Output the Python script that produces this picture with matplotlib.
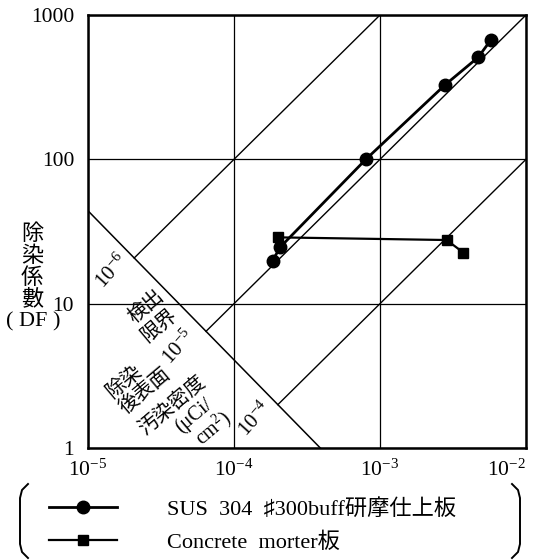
import numpy as np
import matplotlib
matplotlib.use("Agg")
import matplotlib.pyplot as plt
from matplotlib.lines import Line2D
from matplotlib.ticker import NullLocator

plt.rcParams['font.family'] = ['Liberation Serif', 'Noto Sans CJK JP', 'DejaVu Sans']
plt.rcParams['axes.unicode_minus'] = True

# data #############################
sus_x = [1.84e-4, 2.07e-4, 8.0e-4, 2.79e-3, 4.71e-3, 5.74e-3]
sus_df = [19.9, 24.6, 100, 328, 510, 671]
con_x = [2.01e-4, 2.86e-3, 3.72e-3]
con_df = [28.8, 27.6, 22.6]

# residual surface density lines (uCi/cm2) and detection limit line ends
residual = [1e-6, 1e-5, 1e-4]
det_x = [1e-5, 3.9e-4]
det_df = [44, 1]

x_ticks = [1e-5, 1e-4, 1e-3, 1e-2]
y_ticks = [1, 10, 100, 1000]
y_tick_labels = ['1', '10', '100', '1000']
sus_label = 'SUS  304  ♯300buff研摩仕上板'
con_label = 'Concrete  morter板'
# ##################################

W, H = 537, 560
fig = plt.figure(figsize=(W / 100, H / 100), dpi=100)
ax = fig.add_axes([88 / W, 1 - 448 / H, (526 - 88) / W, (448 - 15) / H])
ax.set_xscale('log')
ax.set_yscale('log')
ax.set_xlim(1e-5, 1e-2)
ax.set_ylim(1, 1000)

# detection limit line (in log space)
lx = np.log10(det_x)
ly = np.log10(det_df)
b = (ly[1] - ly[0]) / (lx[1] - lx[0])
a = ly[0] - b * lx[0]
ax.plot(det_x, det_df, 'k', lw=1.1)

for r in residual:
    u0 = (a + np.log10(r)) / (1 - b)
    xs = np.array([10**u0, 1e-2])
    ax.plot(xs, xs / r, 'k', lw=1.0)

l1, = ax.plot(sus_x, sus_df, 'k-', lw=2.0, marker='o', ms=9)
l2, = ax.plot(con_x, con_df, 'k-', lw=1.6, marker='s', ms=7.5)

ax.set_xticks(x_ticks)
ax.set_yticks(y_ticks)
ax.set_yticklabels(y_tick_labels)
ax.xaxis.set_minor_locator(NullLocator())
ax.yaxis.set_minor_locator(NullLocator())
ax.tick_params(which='both', length=0, labelsize=15.5)
ax.tick_params(axis='x', pad=8)
ax.tick_params(axis='y', pad=10)
ax.xaxis.get_ticklabels()[-1].set_horizontalalignment('right')
ax.grid(True, color='k', lw=0.9)
for s in ax.spines.values():
    s.set_linewidth(1.8)


def ftext(px, py, s, **kw):
    fig.text(px / W, 1 - py / H, s, ha='center', va='center', **kw)


# y label, stacked
for ch, py in zip(['除', '染', '係', '數'], [235, 257, 279, 300]):
    ftext(32, py, ch, fontsize=16)
ftext(33, 322, '( DF )', fontsize=16)

num = dict(rotation=48, rotation_mode='anchor', fontsize=15)
cjk = dict(rotation=40, rotation_mode='anchor', fontsize=14.5)
ftext(112, 272, r'$\mathdefault{10^{-6}}$', **num)
ftext(147, 307, '検出', **cjk)
ftext(160, 326, '限界', **cjk)
ftext(179, 348, r'$\mathdefault{10^{-5}}$', **num)
ftext(125, 382, '除染', **cjk)
ftext(146, 392, '後表面', **cjk)
ftext(173, 406, '汚染密度', **cjk)
ftext(194, 416, '(μCi/', **cjk)
ftext(213, 428, r'cm$^\mathdefault{2}$)', **cjk)
ftext(255, 420, r'$\mathdefault{10^{-4}}$', **num)

fig.legend([l1, l2], [sus_label, con_label], loc='upper left',
           bbox_to_anchor=(49 / W, 1 - 499 / H), frameon=False, fontsize=16,
           handlelength=3.06, handletextpad=2.25, labelspacing=0.58,
           borderpad=0, borderaxespad=0, numpoints=1)

# brackets round the legend
bx = np.array([28, 22, 20, 20, 22, 28])
by = np.array([484, 490, 498, 544, 552, 558])
fig.add_artist(Line2D(bx / W, 1 - by / H, color='k', lw=1.4))
bx2 = np.array([512, 518, 520, 520, 518, 512])
fig.add_artist(Line2D(bx2 / W, 1 - by / H, color='k', lw=1.4))

fig.savefig('out.png', dpi=100)
